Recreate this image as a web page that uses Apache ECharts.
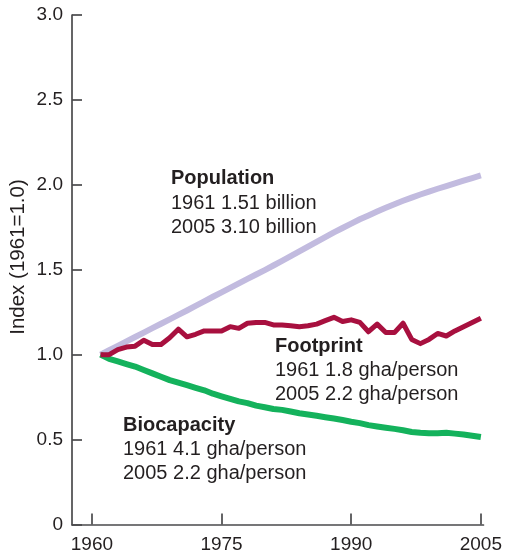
<!DOCTYPE html>
<html>
<head>
<meta charset="utf-8">
<script src="https://cdn.jsdelivr.net/npm/echarts@6/dist/echarts.min.js"></script>
<style>
html,body{margin:0;padding:0;background:#fff;}
#chart{width:505px;height:556px;}
</style>
</head>
<body>
<div id="chart"></div>
<script>
var years = [1961,1962,1963,1964,1965,1966,1967,1968,1969,1970,
             1971,1972,1973,1974,1975,1976,1977,1978,1979,1980,
             1981,1982,1983,1984,1985,1986,1987,1988,1989,1990,
             1991,1992,1993,1994,1995,1996,1997,1998,1999,2000,
             2001,2002,2003,2004,2005];

var population = [1.000,1.026,1.052,1.078,1.104,1.130,1.156,1.182,1.208,1.234,
                  1.260,1.287,1.314,1.341,1.367,1.393,1.420,1.446,1.472,1.498,
                  1.525,1.552,1.580,1.608,1.636,1.664,1.692,1.720,1.746,1.772,
                  1.797,1.820,1.843,1.865,1.886,1.906,1.925,1.943,1.960,1.977,
                  1.993,2.009,2.025,2.040,2.055];

var footprint = [1.000,1.000,1.030,1.045,1.050,1.085,1.060,1.060,1.100,1.150,
                 1.105,1.120,1.140,1.140,1.140,1.165,1.155,1.185,1.190,1.190,
                 1.175,1.175,1.170,1.165,1.170,1.180,1.200,1.220,1.195,1.205,
                 1.190,1.135,1.180,1.130,1.130,1.185,1.090,1.065,1.090,1.125,
                 1.110,1.140,1.165,1.190,1.215];

var biocapacity = [1.000,0.975,0.960,0.945,0.930,0.910,0.890,0.870,0.850,0.835,
                   0.820,0.805,0.790,0.770,0.755,0.740,0.725,0.715,0.700,0.690,
                   0.680,0.675,0.665,0.655,0.648,0.640,0.632,0.624,0.615,0.605,
                   0.597,0.585,0.577,0.570,0.563,0.555,0.545,0.540,0.537,0.538,
                   0.540,0.535,0.530,0.523,0.515];

var xTickYears = [1960, 1975, 1990, 2005];
var yAxisTitle = 'Index (1961=1.0)';

var notes = {
  population: ['Population', '1961 1.51 billion', '2005 3.10 billion'],
  footprint: ['Footprint', '1961 1.8 gha/person', '2005 2.2 gha/person'],
  biocapacity: ['Biocapacity', '1961 4.1 gha/person', '2005 2.2 gha/person']
};

function pairs(vals) {
  return years.map(function (y, i) { return [y, vals[i]]; });
}

var FONT = '"Liberation Sans", Arial, Helvetica, sans-serif';
var TXT = '#231f20';
var AXIS = '#4a4a4c';

function noteTexts(lines, left, centers) {
  return lines.map(function (t, i) {
    return {
      type: 'text',
      x: left,
      y: centers[i],
      style: {
        text: t,
        fill: TXT,
        font: (i === 0 ? 'bold ' : '') + '20px ' + FONT,
        align: 'left',
        verticalAlign: 'middle'
      }
    };
  });
}

var chart = echarts.init(document.getElementById('chart'), null, {renderer: 'canvas'});

var option = {
  animation: false,
  backgroundColor: '#ffffff',
  grid: {left: 72, right: 15, top: 15, bottom: 31.5, containLabel: false},
  xAxis: {
    type: 'value',
    min: 1957.7,
    max: 2005.3,
    splitLine: {show: false},
    axisLine: {show: true, lineStyle: {color: AXIS, width: 1.7}},
    axisTick: {show: true, inside: true, length: 11, customValues: xTickYears,
               lineStyle: {color: AXIS, width: 1.7}},
    axisLabel: {show: true, customValues: xTickYears, margin: 11,
                color: TXT, fontSize: 19, fontFamily: FONT,
                formatter: function (v) { return String(v); }}
  },
  yAxis: {
    type: 'value',
    min: 0,
    max: 3,
    interval: 0.5,
    splitLine: {show: false},
    axisLine: {show: true, lineStyle: {color: AXIS, width: 1.7}},
    axisTick: {show: true, inside: true, length: 10, lineStyle: {color: AXIS, width: 1.7}},
    axisLabel: {show: true, margin: 9, color: TXT, fontSize: 19, fontFamily: FONT,
                formatter: function (v) { return v === 0 ? '0' : v.toFixed(1); }}
  },
  series: [
    {
      name: 'Population', type: 'line', data: pairs(population),
      showSymbol: false, symbol: 'none', z: 2,
      lineStyle: {color: '#c2bbdf', width: 6, join: 'round'}
    },
    {
      name: 'Biocapacity', type: 'line', data: pairs(biocapacity),
      showSymbol: false, symbol: 'none', z: 3,
      lineStyle: {color: '#14b25c', width: 6, join: 'round'}
    },
    {
      name: 'Footprint', type: 'line', data: pairs(footprint),
      showSymbol: false, symbol: 'none', z: 4,
      lineStyle: {color: '#a8103f', width: 5, join: 'round'}
    }
  ],
  graphic: [].concat(
    [{
      type: 'text',
      x: 18,
      y: 257,
      rotation: Math.PI / 2,
      style: {
        text: yAxisTitle,
        fill: TXT,
        font: '20.5px ' + FONT,
        align: 'center',
        verticalAlign: 'middle'
      }
    }],
    noteTexts(notes.population, 171, [178.5, 203, 227]),
    noteTexts(notes.footprint, 275, [346, 370, 394]),
    noteTexts(notes.biocapacity, 123, [425, 449.5, 473.5])
  )
};

chart.setOption(option);
</script>
</body>
</html>
